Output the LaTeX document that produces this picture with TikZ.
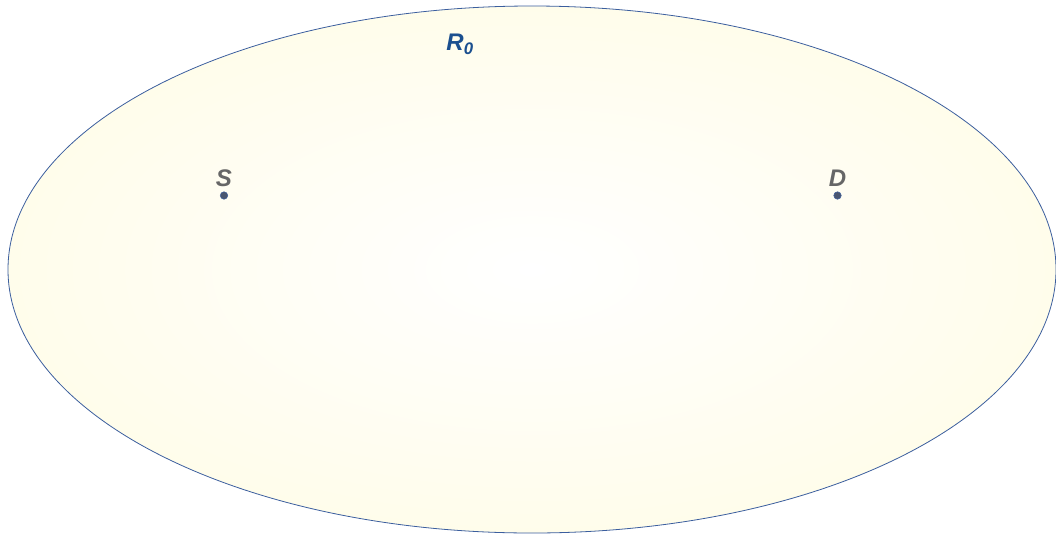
\documentclass[tikz,border=0pt]{standalone}
\usepackage{fontspec}
\setmainfont{Liberation Sans}
\usetikzlibrary{positioning,shapes.geometric}
\definecolor{rim}{HTML}{3B5E9E}
\definecolor{halo}{HTML}{FFF8C6}
\definecolor{ink}{HTML}{666666}
\definecolor{navy}{HTML}{1B4F8F}
\definecolor{dotc}{HTML}{4A5670}
\pgfdeclareradialshading{glow}{\pgfpoint{0bp}{0bp}}{%
  color(0bp)=(white); color(25bp)=(white!65!halo); color(50bp)=(halo)}
\tikzset{
  zone/.style={ellipse,draw=rim,line width=0.8pt,shading=glow,
    inner sep=0pt,minimum width=1048pt,minimum height=527pt},
  pt/.style={circle,fill=dotc,draw=rim,line width=0.5pt,inner sep=0pt,minimum size=7.5pt},
  lbl/.style={font=\fontsize{24}{28}\selectfont\bfseries\itshape,text=ink,inner sep=0pt},
  zlbl/.style={font=\fontsize{24}{28}\selectfont\bfseries\itshape,text=navy,inner sep=0pt},
}

\begin{document}
\begin{tikzpicture}[x=1pt,y=-1pt]
  \useasboundingbox (0,0) rectangle (1056,536);
  \node[zone] (reg) at (532,269.5) {};
  \node[zlbl] (rlbl) at (460,44) {R\textsubscript{0}};
  \node[pt] (src) at (224,195.5) {};
  \node[pt] (dst) at (837.5,195.5) {};
  \node[lbl,above=5pt of src] (slbl) {S};
  \node[lbl,above=5pt of dst] (dlbl) {D};
\end{tikzpicture}
\end{document}
